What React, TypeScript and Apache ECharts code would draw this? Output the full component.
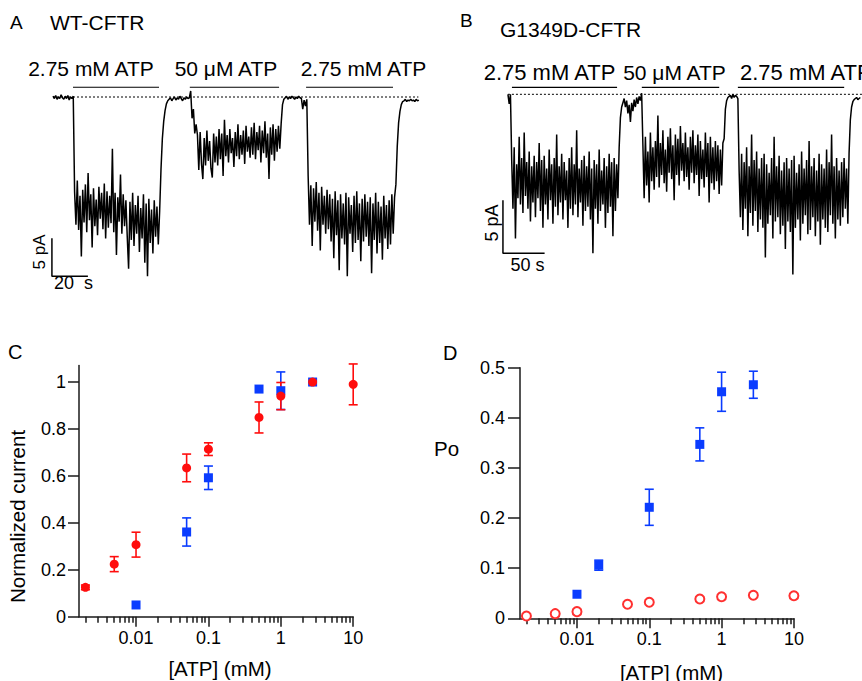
import React, { useEffect, useRef } from 'react';
import * as echarts from 'echarts';

const FONT = '"Liberation Sans", Arial, Helvetica, sans-serif';
const RED = '#ff0d0d';
const BLUE = '#0a3cff';

// ---------------- Panel A: WT-CFTR current trace (pA), one sample every 0.75 s
const aDt = 0.75;
const aPre = [0.1, -0.2, 0.2, -0.3, 0, -0.2, 0.3, -0.1, -0.3, 0.1, -0.2, 0.2, -0.4, 0, -0.2, 0.1];
const aSeg1 = [
  -12.5, -16.8, -11.0, -17.5, -13.0, -21.0, -12.2, -16.5, -11.5,
  -17.8, -10.0, -16.2, -12.8, -19.8, -12.0, -17.0, -13.5, -18.2, -11.8, -16.0, -12.6, -17.4, -11.4, -18.6,
  -12.4, -17.2, -13.0, -16.6, -6.8, -17.8, -12.6, -20.8, -13.2, -16.4, -10.2, -18.0, -12.8, -17.0, -13.6,
  -18.4, -22.6, -13.8, -18.8, -12.6, -19.6, -14.2, -18.0, -13.0, -20.4, -14.6, -18.6, -12.8, -21.8, -14.0,
  -23.6, -13.4, -19.2, -14.8, -20.6, -13.6, -18.4, -14.4, -19.4, -15.0,
];
const aRise1 = [-9.5, -5.5, -3.2, -1.8, -0.9, -0.5];
const aMid1 = [-0.3, -0.1, -0.5, -0.2, 0, -0.4, -0.1, -0.3, 0.1, -0.2, -0.5, -0.1, -0.3, 0, -0.2, -0.1];
const aDrop2 = [0.8, -2.8, -1.6, -4.8, -3.6];
const aSeg2 = [
  -5.0, -9.6, -4.6, -8.8, -10.8, -5.4, -9.0, -4.4, -8.4, -5.8, -9.4, -10.6, -4.8, -8.6, -5.2, -9.0, -4.2, -8.2,
  -4.8, -10.4, -3.0, -7.8, -5.0, -8.6, -4.2, -7.4, -5.4, -9.2, -4.6, -7.8, -3.6, -8.2, -5.0, -7.6, -4.4, -8.8,
  -3.8, -7.2, -5.2, -8.0,
  -4.0, -7.6, -3.4, -8.2, -4.6, -7.0, -3.8, -8.6, -4.4, -7.4, -3.2, -8.0, -4.8, -10.8, -4.0, -7.6, -3.6, -8.4,
  -4.2, -7.2, -3.8, -6.8,
];
const aRise2 = [-3.5, -1.0, -0.3];
const aMid2 = [-0.1, 0.1, -0.3, 0, -0.2, 0.1, -0.1, -0.3, 0, -0.2, 0.1, -0.1, -0.2, -1.6, -0.4, -1.2, -0.3];
const aSeg3 = [
  -10.4, -16.8, -11.6, -19.6, -12.0, -16.4, -11.2, -17.6, -12.6, -20.2, -11.8, -16.8, -13.0, -18.0, -12.2,
  -17.4, -12.8, -19.0, -13.4, -21.2, -12.4, -18.2, -13.6, -22.8, -12.8, -18.6, -14.0, -19.4, -12.6, -23.6,
  -13.2, -18.0, -14.2, -20.4, -13.0, -19.2, -12.4, -18.8, -14.0, -21.6, -13.4, -19.0, -12.8, -18.4, -13.8,
  -19.6, -13.2, -23.2, -14.0, -18.8, -12.6, -20.6, -13.8, -19.2, -14.4, -21.4, -13.0, -18.6, -14.2, -20.0,
  -13.6, -19.4, -12.8, -18.0, -13.2,
];
const aRise3 = [-11.5, -6.5, -3.4, -1.9, -1.0, -0.6];
const aPost = [-0.5, -0.3, -0.6, -0.4, -0.5, -0.3, -0.5, -0.4, -0.6, -0.3, -0.5, -0.4];
const traceA = [
  ...aPre, ...aSeg1, ...aRise1, ...aMid1, ...aDrop2, ...aSeg2, ...aRise2, ...aMid2, ...aSeg3, ...aRise3, ...aPost,
];
const aBaselineEnd = 203; // s
const aBarStart = [11.1, 76, 140.6];
const aBarEnd = [58.9, 125.6, 188.9];
const aBarLevel = 1.28; // pA
const aScaleT0 = -0.6;
const aScaleI0 = -23.6;
const aScaleI = 5; // pA
const aScaleT = 20; // s

// ---------------- Panel B: G1349D-CFTR current trace (pA), one sample every 1.5 s
const bDt = 1.5;
const bPre = [0, -0.9, 0];
const bSeg1 = [
  -6.2, -10.8, -5.0, -13.6, -6.6, -9.8, -4.0, -10.4, -6.0, -11.2, -3.6, -9.6, -6.4, -10.8, -5.4, -12.0, -6.8, -10.2, -5.8, -11.6,
  -6.4, -9.8, -4.6, -11.0, -6.2, -12.6, -5.8, -10.4, -7.0, -11.8, -5.2, -10.0, -6.6, -12.2, -6.0, -10.6, -3.8, -11.4, -6.8, -10.2,
  -5.6, -11.8, -6.4, -10.0, -7.2, -12.6, -6.0, -10.8, -5.0, -11.4, -6.6, -10.4, -3.4, -11.6, -7.0, -10.2, -6.2, -12.4, -5.8, -11.0,
  -6.8, -10.6, -5.4, -11.8, -7.0, -15.0, -6.2, -10.8, -6.6, -12.2, -5.2, -11.0, -7.2, -10.4, -6.0, -12.6, -6.8, -11.2, -5.6, -10.6,
  -6.4, -13.4, -6.0, -11.0, -6.6, -9.8,
];
const bRise1 = [-5.0, -2.2, -1.2, -0.8];
const bMid1 = [-0.4, -1.2, -0.6, -1.8, -1.0, -2.6, -0.8, -1.6, -0.5, -1.2, -0.3, -0.9, -0.2, -0.6];
const bDrop2 = [0.1];
const bSeg2 = [
  -4.8, -9.8, -4.0, -8.6, -5.4, -10.2, -3.6, -8.2, -5.0, -9.0, -4.4, -7.8, -2.0, -8.8, -4.6, -7.6, -3.4, -8.4, -5.2, -9.2,
  -4.0, -7.4, -3.2, -8.0, -4.8, -10.0, -3.8, -7.6, -4.2, -8.6, -3.0, -7.2, -4.6, -8.2, -3.6, -7.8, -5.0, -9.0, -4.0, -7.4,
  -3.4, -8.4, -4.8, -7.6, -3.8, -9.6, -4.4, -8.0, -5.2, -8.8, -3.6, -7.8, -4.6, -10.2, -4.0, -8.4, -5.0, -9.0, -4.4, -8.2,
  -4.8, -9.4, -5.2, -8.6, -4.6,
];
const bRise2 = [-4.2, -1.4, -0.6, -0.3];
const bMid2 = [-0.2, -0.1, -0.4, 0, -0.3, -0.1, -0.2, -0.4];
const bSeg3 = [
  -7.2, -11.6, -5.6, -12.8, -6.4, -10.8, -5.0, -13.4, -6.8, -11.2, -3.8, -12.4, -6.2, -11.0, -5.4, -13.0, -7.0, -11.8, -6.0, -12.6,
  -5.6, -15.4, -6.6, -12.2, -7.4, -11.4, -6.0, -13.6, -4.0, -12.0, -6.8, -11.6, -5.8, -13.2, -7.2, -12.4, -6.4, -14.6, -6.0, -12.0,
  -7.0, -13.0, -6.2, -17.0, -5.8, -12.6, -7.4, -11.8, -6.6, -13.8, -5.4, -12.2, -7.0, -11.4, -6.2, -13.2, -4.4, -12.8, -6.8, -11.6,
  -6.0, -13.4, -7.2, -12.0, -5.6, -14.2, -6.6, -11.8, -7.0, -12.6, -5.2, -13.0, -6.4, -11.4, -3.8, -12.2, -6.8, -13.6, -6.0, -11.8,
  -7.2, -12.4, -6.4, -11.6, -6.0, -10.8, -7.0, -12.2,
];
const bRise3 = [-5.5, -2.4, -1.2, -0.7];
const bPost = [-0.5, -0.4, -0.3, -0.5, -0.4, -0.3];
const traceB = [
  ...bPre, ...bSeg1, ...bRise1, ...bMid1, ...bDrop2, ...bSeg2, ...bRise2, ...bMid2, ...bSeg3, ...bRise3, ...bPost,
];
const bBaselineEnd = 425;
const bBarStart = [4.8, 160.7, 276];
const bBarEnd = [131, 253.6, 403.6];
const bBarLevel = 0.66;
const bScaleT0 = -6;
const bScaleI0 = -15;
const bScaleI = 5;
const bScaleT = 50;

// ---------------- Panel C: normalized current vs [ATP] (mM)
const cRedX = [0.002, 0.005, 0.01, 0.05, 0.1, 0.5, 1, 2.75, 10];
const cRedY = [0.125, 0.224, 0.307, 0.634, 0.714, 0.849, 0.94, 1.0, 0.99];
const cRedErr = [0.01, 0.032, 0.053, 0.059, 0.027, 0.066, 0.058, 0, 0.087];
const cBlueX = [0.01, 0.05, 0.1, 0.5, 1, 2.75];
const cBlueY = [0.05, 0.361, 0.592, 0.97, 0.963, 1.0];
const cBlueErr = [0, 0.06, 0.05, 0, 0.08, 0];
const cYTicks = [0, 0.2, 0.4, 0.6, 0.8, 1];
const cYLabels = ['0', '0.2', '0.4', '0.6', '0.8', '1'];

// ---------------- Panel D: Po vs [ATP] (mM)
const dBlueX = [0.01, 0.02, 0.1, 0.5, 1, 2.75];
const dBlueY = [0.048, 0.106, 0.2215, 0.347, 0.452, 0.466];
const dBlueErr = [0, 0.01, 0.036, 0.033, 0.039, 0.027];
const dRedX = [0.002, 0.005, 0.01, 0.05, 0.1, 0.5, 1, 2.75, 10];
const dRedY = [0.0046, 0.0093, 0.0133, 0.028, 0.032, 0.0385, 0.043, 0.046, 0.045];
const dYTicks = [0, 0.1, 0.2, 0.3, 0.4, 0.5];
const dYLabels = ['0', '0.1', '0.2', '0.3', '0.4', '0.5'];

// shared log x axis
const xMin = 0.00163;
const xMax = 10;
const xMajor = [0.01, 0.1, 1, 10];
const xMajorLabels = ['0.01', '0.1', '1', '10'];
const xMinor = [
  0.002, 0.003, 0.004, 0.005, 0.006, 0.007, 0.008, 0.009,
  0.02, 0.03, 0.04, 0.05, 0.06, 0.07, 0.08, 0.09,
  0.2, 0.3, 0.4, 0.5, 0.6, 0.7, 0.8, 0.9,
  2, 3, 4, 5, 6, 7, 8, 9,
];

const AXIS_COLOR = '#1a1a1a';
const TICK_FONT = 18;

function labelFor(ticks: number[], labels: string[], v: number, log: boolean) {
  let best = 0;
  let bestD = Infinity;
  ticks.forEach((t, i) => {
    const d = log ? Math.abs(Math.log10(t) - Math.log10(v)) : Math.abs(t - v);
    if (d < bestD) { bestD = d; best = i; }
  });
  return bestD < 1e-6 ? labels[best] : '';
}

function traceSeries(values: number[], dt: number, axis: number) {
  return {
    type: 'line', xAxisIndex: axis, yAxisIndex: axis, symbol: 'none', silent: true,
    data: values.map((v, i) => [i * dt, v]),
    lineStyle: { color: '#000', width: 1.5 }, z: 3,
  };
}

function plainLine(data: number[][], axis: number, width: number, type: any = 'solid') {
  return {
    type: 'line', xAxisIndex: axis, yAxisIndex: axis, symbol: 'none', silent: true,
    data, lineStyle: { color: '#000', width, type }, z: 2,
  };
}

function errorBars(xs: number[], ys: number[], errs: number[], color: string, xi: number, yi: number) {
  const data = xs.map((x, i) => [x, ys[i], errs[i]]).filter((d) => d[2] > 0);
  return {
    type: 'custom', xAxisIndex: xi, yAxisIndex: yi, silent: true, data,
    encode: { x: 0, y: 1 },
    renderItem: (_p: any, api: any) => {
      const x = api.value(0);
      const y = api.value(1);
      const e = api.value(2);
      const top = api.coord([x, y + e]);
      const bot = api.coord([x, y - e]);
      const hw = 4.5;
      const st = { stroke: color, lineWidth: 1.6 };
      return {
        type: 'group',
        children: [
          { type: 'line', shape: { x1: top[0], y1: top[1], x2: bot[0], y2: bot[1] }, style: st },
          { type: 'line', shape: { x1: top[0] - hw, y1: top[1], x2: top[0] + hw, y2: top[1] }, style: st },
          { type: 'line', shape: { x1: bot[0] - hw, y1: bot[1], x2: bot[0] + hw, y2: bot[1] }, style: st },
        ],
      };
    },
  };
}

function logMajorAxis(grid: number) {
  return {
    type: 'log', gridIndex: grid, logBase: 10, min: xMin, max: xMax, position: 'bottom',
    axisLine: { show: true, onZero: false, lineStyle: { color: AXIS_COLOR, width: 1.5 } },
    axisTick: { show: true, customValues: xMajor, length: 10, lineStyle: { color: AXIS_COLOR, width: 1.5 } },
    axisLabel: {
      show: true, customValues: xMajor, margin: 12, color: '#000', fontSize: TICK_FONT, fontFamily: FONT,
      formatter: (v: number) => labelFor(xMajor, xMajorLabels, v, true),
    },
    splitLine: { show: false }, minorTick: { show: false },
  };
}

function logMinorAxis(grid: number) {
  return {
    type: 'log', gridIndex: grid, logBase: 10, min: xMin, max: xMax, position: 'bottom', offset: 0,
    axisLine: { show: false, onZero: false },
    axisTick: { show: true, customValues: xMinor, length: 6, lineStyle: { color: AXIS_COLOR, width: 1.5 } },
    axisLabel: { show: false },
    splitLine: { show: false },
  };
}

function valueYAxis(grid: number, max: number, ticks: number[], labels: string[], tickLen: number, margin: number) {
  return {
    type: 'value', gridIndex: grid, min: 0, max,
    axisLine: { show: true, onZero: false, lineStyle: { color: AXIS_COLOR, width: 1.5 } },
    axisTick: { show: true, customValues: ticks, length: tickLen, lineStyle: { color: AXIS_COLOR, width: 1.5 } },
    axisLabel: {
      show: true, customValues: ticks, margin, color: '#000', fontSize: TICK_FONT, fontFamily: FONT,
      formatter: (v: number) => labelFor(ticks, labels, v, false),
    },
    splitLine: { show: false },
  };
}

function txt(text: string, x: number, y: number, size: number, align = 'left', rotation = 0) {
  return {
    type: 'text', x, y, rotation, silent: true,
    style: {
      text, fill: '#000', font: `${size}px ${FONT}`,
      align, textAlign: align, verticalAlign: 'middle', textVerticalAlign: 'middle',
    },
  };
}

export default function App() {
  const ref = useRef<HTMLDivElement>(null);

  useEffect(() => {
    if (!ref.current) return;
    const chart = echarts.init(ref.current, null, { renderer: 'svg' });

    const series: any[] = [];
    // Panel A
    series.push(traceSeries(traceA, aDt, 0));
    series.push(plainLine([[0, 0], [aBaselineEnd, 0]], 0, 1, [2, 2]));
    aBarStart.forEach((s, i) => series.push(plainLine([[s, aBarLevel], [aBarEnd[i], aBarLevel]], 0, 1.2)));
    series.push(plainLine([[aScaleT0, aScaleI0 + aScaleI], [aScaleT0, aScaleI0], [aScaleT0 + aScaleT, aScaleI0]], 0, 1.5));
    // Panel B
    series.push(traceSeries(traceB, bDt, 1));
    series.push(plainLine([[0, 0], [bBaselineEnd, 0]], 1, 1, [2, 2]));
    bBarStart.forEach((s, i) => series.push(plainLine([[s, bBarLevel], [bBarEnd[i], bBarLevel]], 1, 1.2)));
    series.push(plainLine([[bScaleT0, bScaleI0 + bScaleI], [bScaleT0, bScaleI0], [bScaleT0 + bScaleT, bScaleI0]], 1, 1.5));
    // Panel C
    series.push(errorBars(cBlueX, cBlueY, cBlueErr, BLUE, 2, 2));
    series.push({
      type: 'scatter', xAxisIndex: 2, yAxisIndex: 2, symbol: 'rect', symbolSize: 9, silent: true,
      data: cBlueX.map((x, i) => [x, cBlueY[i]]), itemStyle: { color: BLUE, opacity: 1 },
    });
    series.push(errorBars(cRedX, cRedY, cRedErr, RED, 2, 2));
    series.push({
      type: 'scatter', xAxisIndex: 2, yAxisIndex: 2, symbol: 'circle', symbolSize: 9, silent: true,
      data: cRedX.map((x, i) => [x, cRedY[i]]), itemStyle: { color: RED, opacity: 1 },
    });
    // Panel D
    series.push(errorBars(dBlueX, dBlueY, dBlueErr, BLUE, 4, 3));
    series.push({
      type: 'scatter', xAxisIndex: 4, yAxisIndex: 3, symbol: 'rect', symbolSize: 9, silent: true,
      data: dBlueX.map((x, i) => [x, dBlueY[i]]), itemStyle: { color: BLUE, opacity: 1 },
    });
    series.push({
      type: 'scatter', xAxisIndex: 4, yAxisIndex: 3, symbol: 'emptyCircle', symbolSize: 9, silent: true,
      data: dRedX.map((x, i) => [x, dRedY[i]]), itemStyle: { color: '#ff3030', borderWidth: 1, opacity: 1 },
    });

    chart.setOption({
      animation: false,
      backgroundColor: '#fff',
      grid: [
        { left: 49.4, top: 59, width: 370.8, height: 228 },
        { left: 501.28, top: 51.9, width: 363.72, height: 254.4 },
        { left: 79, top: 365.6, width: 274.2, height: 251.1 },
        { left: 520, top: 367.7, width: 273.9, height: 250.6 },
      ],
      xAxis: [
        { type: 'value', gridIndex: 0, min: -2, max: 204, show: false },
        { type: 'value', gridIndex: 1, min: -8, max: 425, show: false },
        logMajorAxis(2),
        logMinorAxis(2),
        logMajorAxis(3),
        logMinorAxis(3),
      ],
      yAxis: [
        { type: 'value', gridIndex: 0, min: -25, max: 5, show: false },
        { type: 'value', gridIndex: 1, min: -20, max: 4, show: false },
        valueYAxis(2, 1.07, cYTicks, cYLabels, 11, 13),
        valueYAxis(3, 0.5, dYTicks, dYLabels, 12, 15),
      ],
      series,
      graphic: [
        txt('A', 10, 22, 19),
        txt('WT-CFTR', 50, 22, 21),
        txt('2.75 mM ATP', 91, 68, 21, 'center'),
        txt('50 μM ATP', 226, 68, 21, 'center'),
        txt('2.75 mM ATP', 363.5, 68, 21, 'center'),
        txt('5 pA', 39, 252, 17, 'center', Math.PI / 2),
        txt('20\u00a0 s', 73.5, 283, 18, 'center'),
        txt('B', 460, 20, 19),
        txt('G1349D-CFTR', 500, 29, 21),
        txt('2.75 mM ATP', 549.5, 72, 22, 'center'),
        txt('50 μM ATP', 674.5, 72, 21, 'center'),
        txt('2.75 mM ATP', 740, 72, 22),
        txt('5 pA', 492, 223, 18, 'center', Math.PI / 2),
        txt('50 s', 527.5, 265, 18, 'center'),
        txt('C', 8, 352, 20),
        txt('Normalized current', 17.5, 516.5, 20.5, 'center', Math.PI / 2),
        txt('[ATP] (mM)', 220, 668, 20.5, 'center'),
        txt('D', 443, 353, 20),
        txt('Po', 434, 448.5, 20.5),
        txt('[ATP] (mM)', 671.5, 672, 20.5, 'center'),
      ],
    });

    return () => chart.dispose();
  }, []);

  return (
    <div
      ref={ref}
      style={{ position: 'absolute', left: 0, top: 0, width: 862, height: 681, background: '#fff' }}
    />
  );
}
